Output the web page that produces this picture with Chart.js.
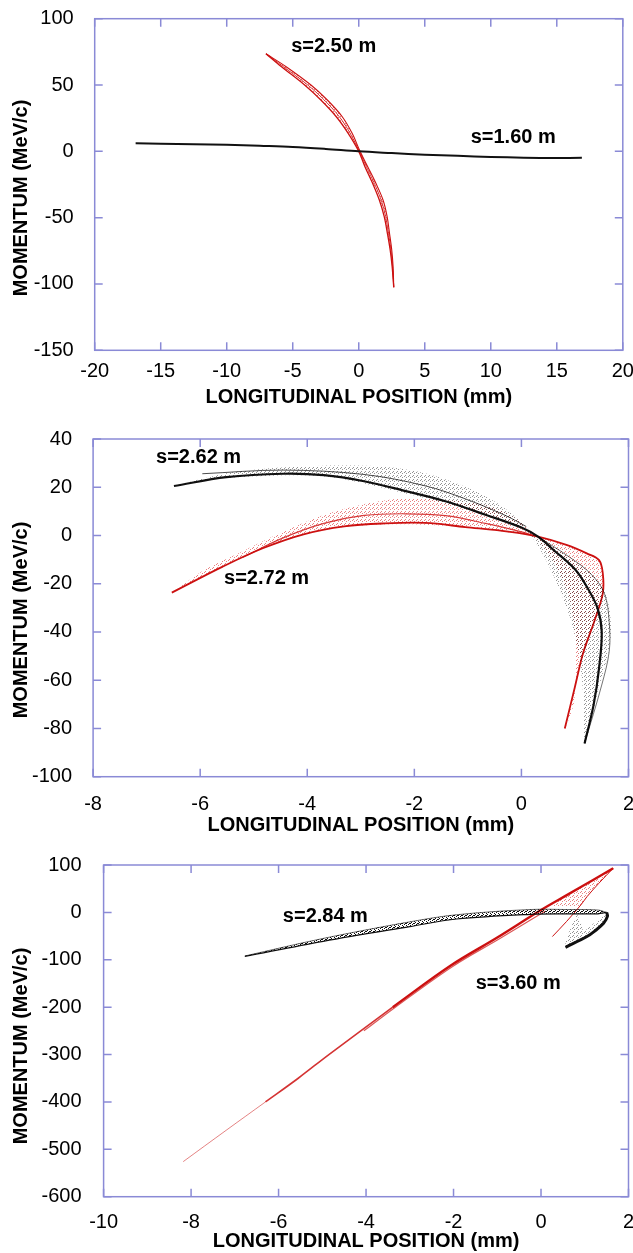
<!DOCTYPE html>
<html>
<head>
<meta charset="utf-8">
<script src="https://cdn.jsdelivr.net/npm/chart.js@4.4.1/dist/chart.umd.min.js"></script>
<style>
  body { margin: 0; background: #fff; width: 633px; height: 1253px; overflow: hidden; }
  canvas { position: absolute; left: 0; }
</style>
</head>
<body>
<canvas id="c1" width="633" height="420" style="top:0px"></canvas>
<canvas id="c2" width="633" height="420" style="top:420px"></canvas>
<canvas id="c3" width="633" height="413" style="top:840px"></canvas>
<script>
// axis ranges: [min, max, step]
const p1XRange = [-20, 20, 5];
const p1YRange = [-150, 100, 50];
const p2XRange = [-8, 2, 2];
const p2YRange = [-100, 40, 20];
const p3XRange = [-10, 2, 2];
const p3YRange = [-600, 100, 100];

// ---- panel 1 : s=1.60 m (black), s=2.50 m (red)
const p1Black = [[-16.9, 6.1], [-15, 5.8], [-12.5, 5.4], [-10, 5.0], [-7.5, 4.2], [-5, 3.3], [-2.5, 1.8], [0, 0],
  [2.5, -1.3], [5, -2.5], [7.5, -3.4], [10, -4.2], [12.5, -4.8], [15, -5.0], [16.9, -4.9]];
const p1RedA = [[-7.03, 73.6], [-5.85, 63.8], [-4.1, 50], [-2.87, 38.7], [-1.7, 26.1], [-0.8, 13.6], [0.0, 0],
  [0.47, -11.6], [1.05, -24.1], [1.56, -36.7], [1.93, -49.2], [2.17, -61.8], [2.38, -74.4], [2.53, -86.9], [2.65, -102.5]];
const p1RedB = [[-7.03, 73.6], [-5.5, 63.8], [-3.62, 50], [-2.38, 38.7], [-1.25, 26.1], [-0.5, 13.6], [0.1, 0],
  [0.68, -11.6], [1.3, -24.1], [1.84, -36.7], [2.15, -49.2], [2.33, -61.8], [2.5, -74.4], [2.6, -86.9], [2.65, -102.5]];
const p1RedMid = [[-7.03, 73.6], [-5.7, 63.8], [-3.86, 50], [-2.62, 38.7], [-1.47, 26.1], [-0.65, 13.6], [0.05, 0],
  [0.58, -11.6], [1.18, -24.1], [1.7, -36.7], [2.04, -49.2], [2.25, -61.8], [2.44, -74.4], [2.56, -86.9], [2.65, -102.5]];
const p1Notes = [['s=2.50 m', -1.9, 78.8], ['s=1.60 m', 11.7, 10.8]];

// ---- panel 2 : s=2.62 m (black), s=2.72 m (red)
const p2BlackHalo = [[-6.49, 20.5], [-5.51, 25.8], [-4.83, 27.6], [-3.69, 28.9], [-2.56, 28.5], [-1.80, 25.8], [-1.05, 20.2],
  [-0.44, 13.3], [0.01, 5.0], [0.39, -7.4], [0.69, -21.2], [0.92, -35], [1.07, -48.9], [1.15, -65], [1.18, -86.2],
  [1.45, -62.7], [1.62, -48.9], [1.675, -38], [1.6, -26], [1.4, -18], [1.07, -12], [0.5, -3], [0.0, 3],
  [-0.67, 8.5], [-2.18, 17.5], [-3.69, 24.5], [-5.51, 23.8]];
const p2BlackCore = [[-6.49, 20.5], [-5.51, 24.2], [-4.45, 25.6], [-3.69, 25.0], [-2.94, 22.5], [-2.18, 18.5], [-1.42, 14.2],
  [-0.67, 8.6], [0.01, 3.2], [0.31, -0.5], [0.6, -6], [1.0, -14], [1.22, -21.2], [1.42, -30], [1.5, -40],
  [1.45, -55], [1.35, -70], [1.18, -86.2]];
const p2BlackThread = [[-5.96, 25.6], [-4.45, 27.1], [-2.94, 25.3], [-1.80, 20.6], [-1.05, 15.2], [-0.29, 8.2], [0.09, 3.7]];
const p2BlackEdge = [[0.31, -0.5], [0.9, -9], [1.3, -16], [1.55, -24], [1.64, -36], [1.64, -48], [1.5, -62], [1.18, -86.2]];
const p2RedHalo = [[-6.53, -23.7], [-5.9, -14], [-5.2, -6.5], [-4.45, 1.5], [-3.69, 8.5], [-2.94, 13], [-2.18, 15.4],
  [-1.42, 14.7], [-0.67, 12.6], [-0.06, 6.4], [0.35, -3], [0.69, -14.3], [0.92, -28.1], [1.0, -41.9], [1.0, -55.8],
  [0.98, -69.6], [0.81, -80], [1.0, -62.7], [1.15, -48.9], [1.37, -35], [1.52, -24], [1.52, -15.7], [1.45, -10.2],
  [1.22, -7.4], [0.84, -3.9], [0.31, -0.5], [-0.21, 1.2], [-1.05, 3.5], [-1.80, 4.5], [-2.56, 4.6], [-3.31, 3.5],
  [-4.07, 0.5], [-4.83, -5.3], [-5.58, -12.9]];
const p2RedCore = [[-6.53, -23.7], [-5.58, -12.9], [-4.83, -5.3], [-4.07, 0.5], [-3.31, 3.8], [-2.56, 5.0], [-1.80, 5.2],
  [-1.05, 3.5], [-0.21, 1.5], [0.31, -0.5], [0.84, -3.9], [1.22, -7.4], [1.45, -10.2], [1.52, -15.7], [1.52, -24],
  [1.37, -35], [1.15, -48.9], [1.0, -62.7], [0.81, -80]];
const p2RedThread = [[-5.2, -9], [-4.45, -1], [-3.69, 5], [-2.94, 8.3], [-2.18, 9.0], [-1.42, 8.2], [-0.67, 5], [0.0, 1.5], [0.31, -0.5]];
const p2Notes = [['s=2.62 m', -6.03, 32.5], ['s=2.72 m', -4.76, -18]];

// ---- panel 3 : s=2.84 m (black), s=3.60 m (red)
const p3BlackLow = [[-6.77, -93], [-4.98, -61], [-3.0, -30], [-1.93, -14], [-0.25, -4], [0.6, -3], [1.3, -3], [1.5, 0]];
const p3BlackHigh = [[-6.77, -92], [-4.98, -55], [-3.0, -20], [-1.93, -5], [-0.25, 6], [0.6, 6], [1.3, 5], [1.5, 0]];
const p3HookOuter = [[1.5, 0], [1.52, -8], [1.43, -23], [1.22, -40], [1.05, -51], [0.56, -73.7]];
const p3HookInner = [[0.56, -73.7], [0.95, -45], [0.92, -25], [0.85, -10], [0.82, -2]];
const p3RedTail = [[-8.18, -526], [-7.2, -460], [-6.3, -400]];
const p3RedMid = [[-6.3, -400], [-5.55, -350], [-4.85, -300], [-3.39, -200]];
const p3RedMain = [[-3.39, -200], [-2.08, -113], [-1.0, -53], [0.0, 5], [0.6, 37], [1.2, 69], [1.65, 93]];
const p3RedSide = [[-4.05, -250], [-3.33, -200], [-2.02, -114], [-0.94, -55], [0.1, 3]];
const p3RedLow = [[0.26, -51], [0.58, -19.6], [0.91, 15.6], [1.05, 33], [1.32, 61.2], [1.65, 93]];
const p3Fan = [[0.2, 12], [0.6, 37], [1.2, 69], [1.65, 93], [1.32, 61.2], [1.05, 33], [0.91, 15.6], [0.86, 12]];
const p3Notes = [['s=2.84 m', -4.93, -9.7], ['s=3.60 m', -0.52, -149]];

Chart.defaults.font.family = '"Liberation Sans", Arial, Helvetica, sans-serif';
Chart.defaults.font.size = 20;
Chart.defaults.color = '#000';
Chart.defaults.animation = false;

const AXIS = '#8a8ad6';
const BLACK = '#111111';
const RED = '#cc1010';

function dots(color, cells) {
  const c = document.createElement('canvas');
  c.width = c.height = 4;
  const g = c.getContext('2d');
  g.fillStyle = color;
  cells.forEach(p => g.fillRect(p[0], p[1], 1, 1));
  return g.createPattern(c, 'repeat');
}
const sparse = [[0, 0], [2, 1], [1, 3]];
const dense = [[0, 0], [2, 1], [1, 3], [3, 2], [2, 3]];
const greyDots = dots('rgba(0,0,0,0.42)', sparse);
const darkDots = dots('rgba(0,0,0,0.95)', dense);
const pinkDots = dots('rgba(215,25,25,0.55)', sparse);

const xy = arr => arr.map(p => ({x: p[0], y: p[1]}));
const line = (arr, color, width) => ({
  data: xy(arr), showLine: true, borderColor: color, borderWidth: width,
  pointRadius: 0, tension: 0.35, fill: false
});
const area = (arr, paint) => ({
  data: xy(arr.concat([arr[0]])), showLine: true, borderWidth: 0, borderColor: 'rgba(0,0,0,0)',
  backgroundColor: paint, pointRadius: 0, tension: 0.3, fill: 'shape'
});
const band = (a, b) => a.concat(b.slice().reverse());

function frame(notes, yTitleX, yTitleY) {
  return {
    id: 'frame',
    afterDraw(chart) {
      const {ctx, chartArea: a, scales: {x, y}} = chart;
      ctx.save();
      ctx.strokeStyle = AXIS;
      ctx.lineWidth = 1.5;
      ctx.strokeRect(a.left, a.top, a.right - a.left, a.bottom - a.top);
      ctx.beginPath();
      x.ticks.forEach((t, i) => {
        const px = x.getPixelForTick(i);
        ctx.moveTo(px, a.bottom); ctx.lineTo(px, a.bottom - 8);
        ctx.moveTo(px, a.top); ctx.lineTo(px, a.top + 8);
      });
      y.ticks.forEach((t, i) => {
        const py = y.getPixelForTick(i);
        ctx.moveTo(a.left, py); ctx.lineTo(a.left + 8, py);
        ctx.moveTo(a.right, py); ctx.lineTo(a.right - 8, py);
      });
      ctx.stroke();

      ctx.fillStyle = '#000';
      ctx.font = 'bold 20px "Liberation Sans", Arial, sans-serif';
      ctx.textAlign = 'center';
      ctx.textBaseline = 'middle';
      notes.forEach(n => ctx.fillText(n[0], x.getPixelForValue(n[1]), y.getPixelForValue(n[2])));

      ctx.translate(yTitleX, yTitleY);
      ctx.rotate(-Math.PI / 2);
      ctx.fillText('MOMENTUM (MeV/c)', 0, 0);
      ctx.restore();
    }
  };
}

function makeChart(id, box, xr, yr, datasets, notes) {
  return new Chart(document.getElementById(id), {
    type: 'scatter',
    data: {datasets},
    options: {
      responsive: false,
      layout: {padding: {left: 0, top: box.top, right: box.right, bottom: 0}},
      plugins: {legend: {display: false}, tooltip: {enabled: false}},
      scales: {
        x: {
          type: 'linear', min: xr[0], max: xr[1],
          ticks: {stepSize: xr[2], padding: box.xPad},
          grid: {display: false}, border: {display: false},
          title: {display: true, text: 'LONGITUDINAL POSITION (mm)', font: {size: 20, weight: 'bold'},
            padding: {top: 0, bottom: box.titlePad}},
          afterFit: s => { s.height = box.xH; s.paddingLeft = 0; s.paddingRight = 0; }
        },
        y: {
          type: 'linear', min: yr[0], max: yr[1],
          ticks: {stepSize: yr[2], padding: box.yPad},
          grid: {display: false}, border: {display: false},
          afterFit: s => { s.width = box.yW; s.paddingTop = 0; s.paddingBottom = 0; }
        }
      }
    },
    plugins: [frame(notes, 21, box.yTitleY)]
  });
}

makeChart('c1', {top: 18.7, right: 10.2, yW: 94.7, xH: 69.7, xPad: 1.5, yPad: 13, titlePad: 11, yTitleY: 198},
  p1XRange, p1YRange, [
    line(p1Black, BLACK, 2),
    area(band(p1RedA, p1RedB), pinkDots),
    line(p1RedA, RED, 1.3),
    line(p1RedMid, 'rgba(205,15,15,0.8)', 1),
    line(p1RedB, RED, 1.1)
  ], p1Notes);

makeChart('c2', {top: 19, right: 4.5, yW: 93.1, xH: 63.3, xPad: 7.5, yPad: 13, titlePad: 3, yTitleY: 200},
  p2XRange, p2YRange, [
    area(p2BlackHalo, greyDots),
    line(p2BlackThread, 'rgba(0,0,0,0.7)', 1),
    line(p2BlackEdge, 'rgba(0,0,0,0.55)', 1),
    line(p2BlackCore, BLACK, 2.2),
    area(p2RedHalo, pinkDots),
    line(p2RedThread, 'rgba(205,15,15,0.8)', 1.2),
    line(p2RedCore, RED, 1.8)
  ], p2Notes);

makeChart('c3', {top: 25, right: 4.5, yW: 103.6, xH: 56.3, xPad: 5.5, yPad: 14, titlePad: 0, yTitleY: 206},
  p3XRange, p3YRange, [
    area(band(p3BlackLow, p3BlackHigh), darkDots),
    line(p3BlackLow, BLACK, 1.2),
    line(p3BlackHigh, 'rgba(0,0,0,0.6)', 1),
    area(band(p3HookOuter, p3HookInner), greyDots),
    line(p3HookOuter, BLACK, 3),
    line(p3RedTail, 'rgba(205,30,30,0.55)', 1),
    line(p3RedMid, 'rgba(205,15,15,0.85)', 1.6),
    line(p3RedSide, 'rgba(205,15,15,0.7)', 1.2),
    line(p3RedMain, RED, 2.4),
    area(p3Fan, pinkDots),
    line(p3RedLow, RED, 1)
  ], p3Notes);
</script>
</body>
</html>
